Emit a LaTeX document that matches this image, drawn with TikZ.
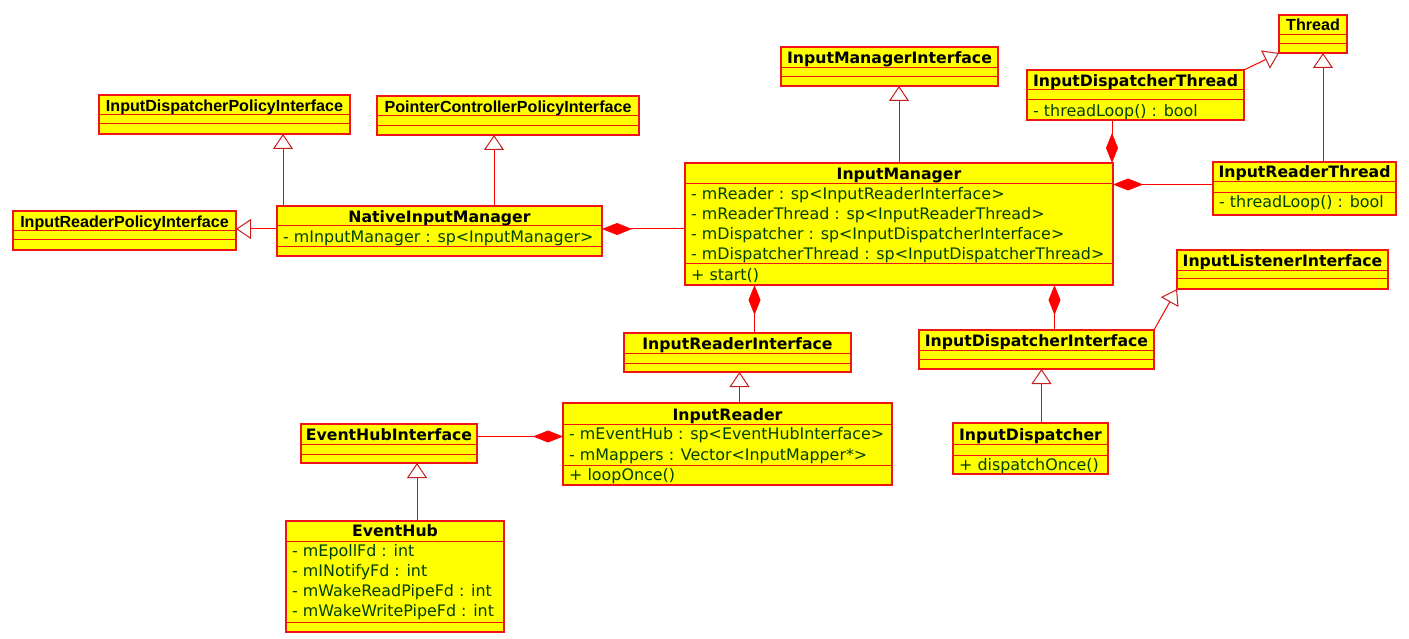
\documentclass[tikz,border=0pt]{standalone}
\usepackage{fontspec}
\setmainfont{DejaVu Sans}
\newfontfamily\arialfont{Liberation Sans}
\usetikzlibrary{arrows.meta}
\definecolor{boxred}{RGB}{240,20,20}
\definecolor{boxfill}{RGB}{255,255,0}
\definecolor{membergreen}{RGB}{0,64,0}
\definecolor{tipred}{RGB}{200,30,30}
\tikzset{
 classframe/.style={draw=boxred, fill=boxfill, line width=1.2pt, inner sep=0pt, outer sep=0pt, anchor=north west},
 seprule/.style={draw=boxred, line width=1pt},
 titletext/.style={inner sep=0pt, anchor=base, font=\fontsize{15.7}{18}\selectfont\bfseries},
 arialtitle/.style={inner sep=0pt, anchor=base, font=\arialfont\fontsize{16.1}{18}\selectfont\bfseries},
 membertext/.style={inner sep=0pt, anchor=base west, text=membergreen, font=\fontsize{15.9}{18}\selectfont},
 inherit/.style={draw=red, line width=1pt, -{Triangle[open, length=15pt, width=20pt, color=tipred]}},
 compose/.style={draw=red, line width=1pt, {Diamond[length=30pt, width=12pt, color=red]}-},
}
\newcommand{\umlclass}[7]{%
 \node[classframe, minimum width={(#4-#2)*1pt}, minimum height={(#5-#3)*1pt}] (#1) at (#2,#3) {};
 \draw[seprule] (#2,#6) -- (#4,#6);
 \draw[seprule] (#2,#7) -- (#4,#7);
}
\begin{document}
\begin{tikzpicture}[x=1pt,y=-1pt]
\useasboundingbox[fill=white] (0,0) rectangle (1409,639);

% class frames
\umlclass{idpi}{99}{95}{350}{134}{115}{124}
\umlclass{irpi}{13}{211}{236}{250}{231}{240}
\umlclass{pcpi}{377}{96}{639}{135}{116}{126}
\umlclass{thread}{1279}{15}{1347}{53}{35}{44}
\umlclass{nim}{277}{206}{602}{256}{226}{247}
\umlclass{im}{685}{163}{1113}{285}{184}{264}
\umlclass{imi}{781}{47}{998}{86}{68}{77}
\umlclass{idt}{1027}{70}{1244}{120}{90}{100}
\umlclass{irt}{1213}{162}{1396}{215}{182}{193}
\umlclass{ili}{1177}{250}{1388}{289}{271}{279}
\umlclass{idi}{919}{330}{1154}{369}{350}{359}
\umlclass{id}{953}{423}{1108}{474}{444}{455}
\umlclass{iri}{624}{333}{851}{372}{353}{363}
\umlclass{ir}{563}{403}{892}{485}{424}{465}
\umlclass{ehi}{301}{424}{477}{463}{444}{454}
\umlclass{eh}{286}{521}{504}{632}{541}{622}

% titles
\node[arialtitle] (idpi-t) at (224.5,111.5) {InputDispatcherPolicyInterface};
\node[arialtitle] (irpi-t) at (124.5,227.5) {InputReaderPolicyInterface};
\node[arialtitle] (pcpi-t) at (508,112.5) {PointerControllerPolicyInterface};
\node[arialtitle] (thread-t) at (1313,31) {Thread};
\node[titletext] (nim-t) at (439.5,222.5) {NativeInputManager};
\node[titletext] (im-t) at (899,179.5) {InputManager};
\node[titletext] (imi-t) at (889.5,64) {InputManagerInterface};
\node[titletext] (idt-t) at (1135.5,86.5) {InputDispatcherThread};
\node[titletext] (irt-t) at (1304.5,177.5) {InputReaderThread};
\node[titletext] (ili-t) at (1282.5,266.5) {InputListenerInterface};
\node[titletext] (idi-t) at (1036.5,346) {InputDispatcherInterface};
\node[titletext] (id-t) at (1030.5,440) {InputDispatcher};
\node[titletext] (iri-t) at (737.5,349) {InputReaderInterface};
\node[titletext] (ir-t) at (727.5,420) {InputReader};
\node[titletext] (ehi-t) at (389,440) {EventHubInterface};
\node[titletext] (eh-t) at (395,536.5) {EventHub};

% members
\node[membertext] (nim-m1) at (283,242.5) {- mInputManager : sp<InputManager>};
\node[membertext] (im-m1) at (691,200) {- mReader : sp<InputReaderInterface>};
\node[membertext] (im-m2) at (691,220) {- mReaderThread : sp<InputReaderThread>};
\node[membertext] (im-m3) at (691,240) {- mDispatcher : sp<InputDispatcherInterface>};
\node[membertext] (im-m4) at (691,260) {- mDispatcherThread : sp<InputDispatcherThread>};
\node[membertext] (im-o1) at (691,280.5) {+ start()};
\node[membertext] (idt-o1) at (1033,116.5) {- threadLoop() : bool};
\node[membertext] (irt-o1) at (1219,208) {- threadLoop() : bool};
\node[membertext] (id-o1) at (959,470) {+ dispatchOnce()};
\node[membertext] (ir-m1) at (569,439.5) {- mEventHub : sp<EventHubInterface>};
\node[membertext] (ir-m2) at (569,460) {- mMappers : Vector<InputMapper*>};
\node[membertext] (ir-o1) at (569,480) {+ loopOnce()};
\node[membertext] (eh-m1) at (292,556.5) {- mEpollFd : int};
\node[membertext] (eh-m2) at (292,576.5) {- mINotifyFd : int};
\node[membertext] (eh-m3) at (292,596.5) {- mWakeReadPipeFd : int};
\node[membertext] (eh-m4) at (292,616.5) {- mWakeWritePipeFd : int};

% connectors
\coordinate (nimW) at ([yshift=2pt]nim.west);
\draw[inherit] (nimW) -- (nimW -| irpi.east);
\coordinate (nimNW) at ([xshift=6pt]nim.north west);
\draw[inherit] (nimNW) -- (nimNW |- idpi.south);
\coordinate (pcpiS) at ([xshift=-14pt]pcpi.south);
\draw[inherit] (pcpiS |- nim.north) -- (pcpiS);
\coordinate (nimE) at ([yshift=2pt]nim.east);
\draw[compose] (nimE) -- (nimE -| im.west);
\draw[inherit] (im.north) -- (im.north |- imi.south);
\coordinate (imNE) at ([xshift=-1pt]im.north east);
\draw[compose] (imNE) -- (imNE |- idt.south);
\coordinate (irtW) at ([yshift=4pt]irt.west);
\draw[compose] (irtW -| im.east) -- (irtW);
\draw[inherit] (idt.north east) -- (thread.south west);
\coordinate (threadS) at ([xshift=10pt]thread.south);
\draw[inherit] (threadS |- irt.north) -- (threadS);
\coordinate (idiN) at ([xshift=18pt]idi.north);
\draw[compose] (idiN |- im.south) -- (idiN);
\draw[inherit] (idi.north east) -- (ili.south west);
\coordinate (idN) at ([xshift=11pt]id.north);
\draw[inherit] (idN) -- (idN |- idi.south);
\coordinate (iriN) at ([xshift=17pt]iri.north);
\draw[compose] (iriN |- im.south) -- (iriN);
\coordinate (irN) at ([xshift=12pt]ir.north);
\draw[inherit] (irN) -- (irN |- iri.south);
\coordinate (ehiE) at ([yshift=7pt]ehi.east);
\draw[compose] (ehiE -| ir.west) -- (ehiE);
\coordinate (ehN) at ([xshift=22pt]eh.north);
\draw[inherit] (ehN) -- (ehN |- ehi.south);
\end{tikzpicture}
\end{document}
